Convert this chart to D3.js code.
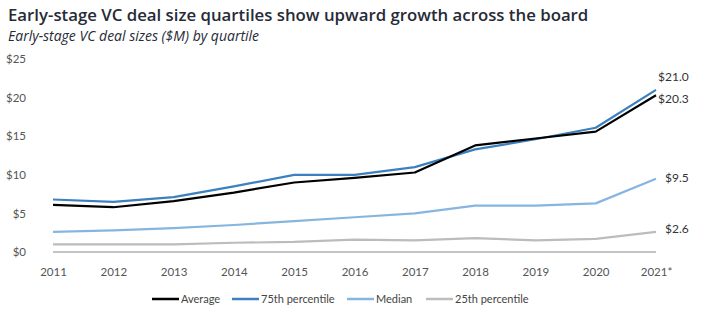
<!DOCTYPE html>
<html>
<head>
<meta charset="utf-8">
<script src="https://cdn.jsdelivr.net/npm/d3@7"></script>
<style>
    body { margin: 0; background: #fff; }
    svg { display: block; }
</style>
</head>
<body>
<div id="chart"></div>
<script>
// chart data
const years = ['2011', '2012', '2013', '2014', '2015', '2016', '2017', '2018', '2019', '2020', '2021*'];
const average = [6.1, 5.8, 6.6, 7.7, 9.0, 9.6, 10.3, 13.8, 14.7, 15.6, 20.3];
const p75 = [6.8, 6.5, 7.1, 8.5, 10.0, 10.0, 11.0, 13.3, 14.6, 16.1, 21.0];
const median = [2.6, 2.8, 3.1, 3.5, 4.0, 4.5, 5.0, 6.0, 6.0, 6.3, 9.5];
const p25 = [1.0, 1.0, 1.0, 1.2, 1.3, 1.6, 1.5, 1.8, 1.5, 1.7, 2.6];
const yTicks = [0, 5, 10, 15, 20, 25];

const seriesNames = ['Average', '75th percentile', 'Median', '25th percentile'];
const seriesValues = [average, p75, median, p25];
const seriesColors = ['#000000', '#3c80bf', '#86b6e0', '#bcbcbc'];

const width = 712, height = 314;
const font = '"Open Sans", sans-serif';
const smallFont = 'Lato, sans-serif';

const svg = d3.select('#chart').append('svg')
    .attr('width', width)
    .attr('height', height);

// titles
svg.append('text')
    .attr('x', 8).attr('y', 21)
    .attr('font-family', font)
    .attr('font-size', 16.8)
    .attr('font-weight', 600)
    .attr('fill', '#262b36')
    .text('Early-stage VC deal size quartiles show upward growth across the board');

svg.append('text')
    .attr('x', 8).attr('y', 41)
    .attr('font-family', font)
    .attr('font-size', 14)
    .attr('font-style', 'italic')
    .attr('fill', '#262b36')
    .text('Early-stage VC deal sizes ($M) by quartile');

const x = d3.scalePoint()
    .domain(years)
    .range([53, 656]);

const y = d3.scaleLinear()
    .domain([0, 25])
    .range([252, 59]);

// y axis labels
const yAxis = svg.append('g')
    .attr('transform', 'translate(26,0)')
    .call(d3.axisLeft(y).tickValues(yTicks).tickSize(0).tickPadding(0)
        .tickFormat(d => '$' + d));
yAxis.select('.domain').remove();
yAxis.selectAll('text')
    .attr('font-family', smallFont)
    .attr('font-size', 11.5)
    .attr('fill', '#555');

// x axis labels
const xAxis = svg.append('g')
    .attr('transform', 'translate(0,268)')
    .call(d3.axisBottom(x).tickSize(0).tickPadding(0));
xAxis.select('.domain').remove();
xAxis.selectAll('text')
    .attr('font-family', smallFont)
    .attr('font-size', 11.5)
    .attr('fill', '#555');

// zero line
svg.append('line')
    .attr('x1', x(years[0])).attr('x2', x(years[years.length - 1]))
    .attr('y1', y(0)).attr('y2', y(0))
    .attr('stroke', '#c4c4c4')
    .attr('stroke-width', 2);

const line = d3.line()
    .x((d, i) => x(years[i]))
    .y(d => y(d));

// draw back to front so average sits on top
for (let s = seriesValues.length - 1; s >= 0; s--) {
    svg.append('path')
        .datum(seriesValues[s])
        .attr('fill', 'none')
        .attr('stroke', seriesColors[s])
        .attr('stroke-width', 2.2)
        .attr('stroke-linejoin', 'round')
        .attr('d', line);
}

// end labels
const last = years.length - 1;
const endLabels = [
    {v: p75[last], dx: 2, dy: -13},
    {v: average[last], dx: 2, dy: 4},
    {v: median[last], dx: 9, dy: -1},
    {v: p25[last], dx: 9, dy: -3}
];
endLabels.forEach(function(l) {
    svg.append('text')
        .attr('x', x(years[last]) + l.dx)
        .attr('y', y(l.v) + l.dy)
        .attr('dy', '0.35em')
        .attr('font-family', smallFont)
        .attr('font-size', 12)
        .attr('fill', '#333')
        .text('$' + l.v.toFixed(1));
});

// legend
const legendX = [152, 232, 347, 426];
const legend = svg.append('g').attr('transform', 'translate(0,299)');
seriesNames.forEach(function(name, i) {
    legend.append('line')
        .attr('x1', legendX[i]).attr('x2', legendX[i] + 27)
        .attr('y1', 0).attr('y2', 0)
        .attr('stroke', seriesColors[i])
        .attr('stroke-width', 2.5);
    legend.append('text')
        .attr('x', legendX[i] + 29)
        .attr('y', 0)
        .attr('dy', '0.35em')
        .attr('font-family', smallFont)
        .attr('font-size', 11)
        .attr('fill', '#444')
        .text(name);
});
</script>
</body>
</html>
